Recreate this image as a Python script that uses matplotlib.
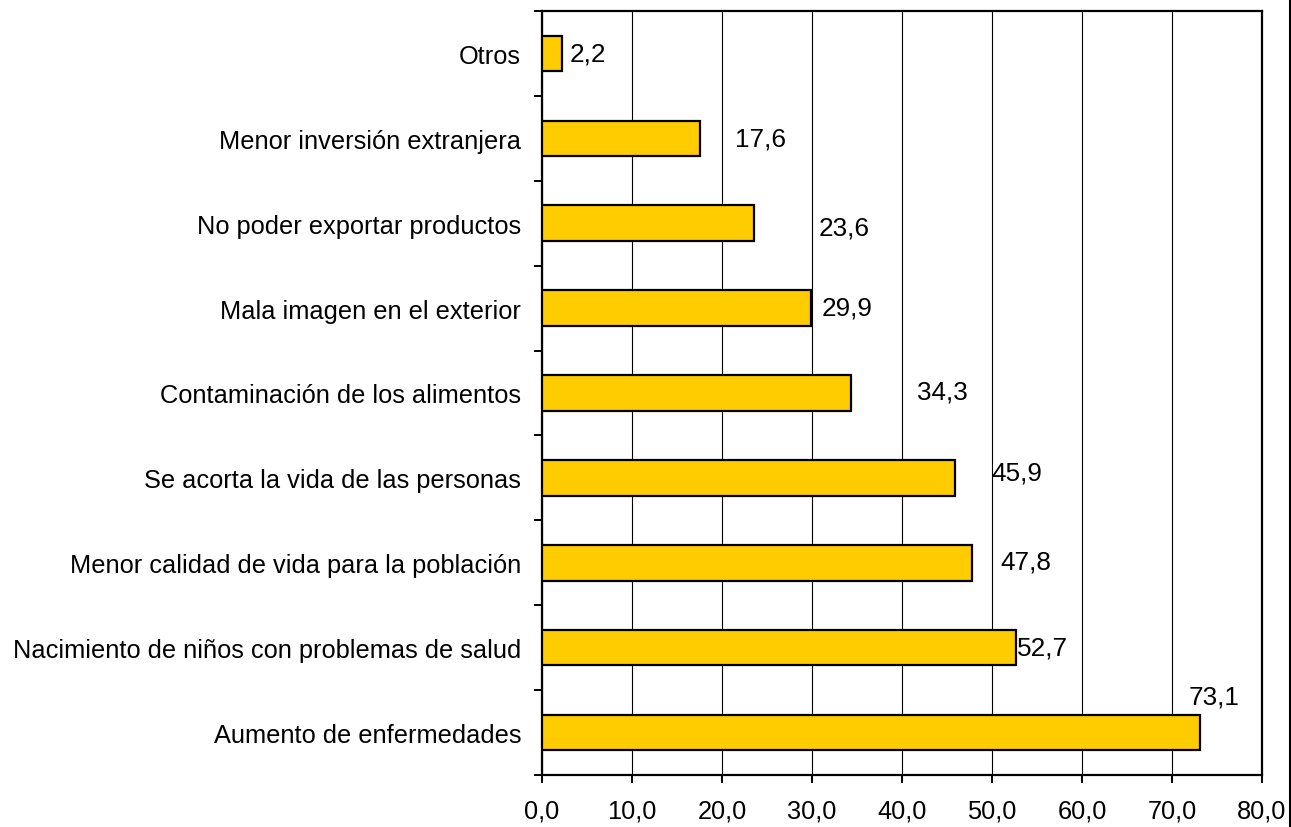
import matplotlib
matplotlib.use("Agg")
import matplotlib.pyplot as plt
from matplotlib import font_manager
from matplotlib.lines import Line2D
from matplotlib.ticker import FixedLocator

categories = [
    "Otros",
    "Menor inversión extranjera",
    "No poder exportar productos",
    "Mala imagen en el exterior",
    "Contaminación de los alimentos",
    "Se acorta la vida de las personas",
    "Menor calidad de vida para la población",
    "Nacimiento de niños con problemas de salud",
    "Aumento de enfermedades",
]
values = [2.2, 17.6, 23.6, 29.9, 34.3, 45.9, 47.8, 52.7, 73.1]
value_labels = ["2,2", "17,6", "23,6", "29,9", "34,3", "45,9", "47,8", "52,7", "73,1"]
xticks = [0, 10, 20, 30, 40, 50, 60, 70, 80]
xtick_labels = ["0,0", "10,0", "20,0", "30,0", "40,0", "50,0", "60,0", "70,0", "80,0"]

# label placement (as in the original chart)
label_x = [3.1, 21.4, 30.7, 31.1, 41.7, 49.9, 50.9, 52.8, 71.8]
label_dy = [0.0, 0.0, 0.05, -0.01, -0.02, -0.06, -0.01, 0.0, -0.42]

available = {f.name for f in font_manager.fontManager.ttflist}
narrow = "Liberation Sans Narrow" if "Liberation Sans Narrow" in available else "Liberation Sans"
axis_size = 22 if narrow == "Liberation Sans Narrow" else 18.3

fig = plt.figure(figsize=(12.91, 8.28), dpi=100)
ax = fig.add_axes([542 / 1291, 1 - 776 / 828, 720 / 1291, 764 / 828])

ypos = list(range(len(categories)))
ax.barh(ypos, values, height=0.42, color="#FFCC00", edgecolor="black", linewidth=1.6, zorder=3)

ax.set_xlim(0, 80)
ax.set_ylim(len(categories) - 0.5, -0.5)

ax.xaxis.set_major_locator(FixedLocator(xticks))
ax.set_xticklabels(xtick_labels, fontfamily=narrow, fontsize=axis_size)
ax.tick_params(axis="x", direction="out", length=6, width=1.4, pad=11, color="black")
ax.grid(axis="x", color="black", linewidth=0.8, zorder=1)

ax.set_yticks(ypos)
ax.set_yticklabels(categories, fontfamily=narrow, fontsize=axis_size)
ax.tick_params(axis="y", which="major", length=0, pad=15)
ax.yaxis.set_minor_locator(FixedLocator([i - 0.5 for i in range(len(categories) + 1)]))
ax.tick_params(axis="y", which="minor", direction="out", length=6, width=1.4, color="black")

for s in ax.spines.values():
    s.set_linewidth(1.6)
    s.set_color("black")

for i, (lab, lx, dy) in enumerate(zip(value_labels, label_x, label_dy)):
    ax.text(lx, i + dy, lab, ha="left", va="center", fontfamily="Liberation Sans",
            fontsize=18.8, color="black", zorder=4)

fig.add_artist(Line2D([1289.5 / 1291, 1289.5 / 1291], [0, 1], transform=fig.transFigure,
                      color="black", linewidth=2.2))

fig.savefig("out.png", dpi=100, facecolor="white")
